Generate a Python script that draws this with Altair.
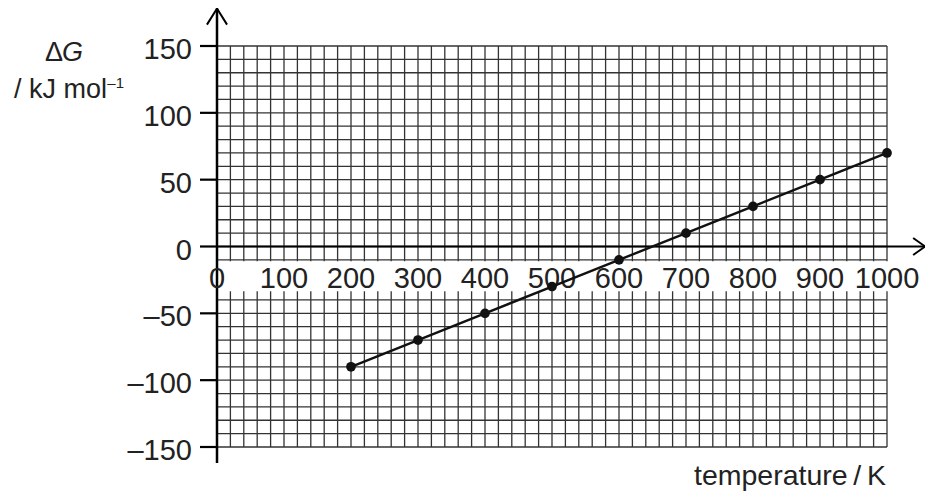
import altair as alt
import pandas as pd

# ---- data ----
temperature = [200, 300, 400, 500, 600, 700, 800, 900, 1000]
delta_g = [-90, -70, -50, -30, -10, 10, 30, 50, 70]

x_label_values = [0, 100, 200, 300, 400, 500, 600, 700, 800, 900, 1000]
x_tick_labels = ["0", "100", "200", "300", "400", "500", "600", "700", "800", "900", "1000"]
y_tick_values = [-150, -100, -50, 0, 50, 100, 150]
y_tick_labels = ["\u2013150", "\u2013100", "\u201350", "0", "50", "100", "150"]

X_MIN, X_MAX = 0, 1000
Y_MIN, Y_MAX = -150, 150
grid_x = list(range(X_MIN, X_MAX + 1, 20))
grid_y = list(range(Y_MIN, Y_MAX + 1, 10))

FONT = "Liberation Sans"
INK = "#222222"
GRID = "#333333"

xs = alt.Scale(domain=[X_MIN, X_MAX], nice=False, zero=False)
ys = alt.Scale(domain=[Y_MIN, Y_MAX], nice=False, zero=False)


def X(field):
    return alt.X(field, scale=xs, axis=None)


def Y(field):
    return alt.Y(field, scale=ys, axis=None)


# ---- grid ----
vgrid = alt.Chart(pd.DataFrame({"x": grid_x, "y0": Y_MIN, "y1": Y_MAX})).mark_rule(
    color=GRID, strokeWidth=1.3
).encode(x=X("x:Q"), y=Y("y0:Q"), y2="y1:Q")

hgrid = alt.Chart(pd.DataFrame({"y": grid_y, "x0": X_MIN, "x1": X_MAX})).mark_rule(
    color=GRID, strokeWidth=1.3
).encode(x=X("x0:Q"), x2="x1:Q", y=Y("y:Q"))

# white band behind the x tick labels
band = alt.Chart(pd.DataFrame({"x0": [-5], "x1": [1005], "y0": [-11], "y1": [-33.5]})).mark_rect(
    fill="white"
).encode(x=X("x0:Q"), x2="x1:Q", y=Y("y0:Q"), y2="y1:Q")

# axis lines with arrow heads
yaxis_line = alt.Chart(pd.DataFrame({"x": [0], "y0": [-162], "y1": [178]})).mark_rule(
    color="black", strokeWidth=2.5
).encode(x=X("x:Q"), y=Y("y0:Q"), y2="y1:Q")

xaxis_line = alt.Chart(pd.DataFrame({"x0": [0], "x1": [1057], "y": [0]})).mark_rule(
    color="black", strokeWidth=2.2
).encode(x=X("x0:Q"), x2="x1:Q", y=Y("y:Q"))

arrows = alt.Chart(pd.DataFrame({
    "part": ["y", "y", "y", "x", "x", "x"],
    "ord": [0, 1, 2, 0, 1, 2],
    "x": [-15, 0, 15, 1039, 1057, 1039],
    "y": [166, 178, 166, 6.4, 0, -6.4],
})).mark_line(color="black", strokeWidth=2).encode(
    x=X("x:Q"), y=Y("y:Q"), detail="part:N", order="ord:Q"
)

# y ticks and labels
yticks = alt.Chart(pd.DataFrame({"y": y_tick_values, "x0": -25.4, "x1": 0})).mark_rule(
    color="black", strokeWidth=2.2
).encode(x=X("x0:Q"), x2="x1:Q", y=Y("y:Q"))

ylabels = alt.Chart(pd.DataFrame({"y": y_tick_values, "label": y_tick_labels})).mark_text(
    font=FONT, fontSize=29, color=INK, align="right", baseline="middle", dy=4
).encode(x=alt.value(-25), y=Y("y:Q"), text="label:N")

# x tick labels inside the band
xlabels = alt.Chart(pd.DataFrame({"x": x_label_values, "label": x_tick_labels})).mark_text(
    font=FONT, fontSize=29, color=INK, align="center", baseline="middle"
).encode(x=X("x:Q"), y=alt.value(233), text="label:N")

# data
data = pd.DataFrame({"T": temperature, "dG": delta_g})
line = alt.Chart(data).mark_line(color="#111111", strokeWidth=2.4).encode(
    x=X("T:Q"), y=Y("dG:Q")
)
points = alt.Chart(data).mark_circle(color="#111111", opacity=1, size=95).encode(
    x=X("T:Q"), y=Y("dG:Q")
)


# titles
def label(text, x, y, size, style="normal", align="right"):
    return alt.Chart(pd.DataFrame({"t": [text]})).mark_text(
        font=FONT, fontSize=size, fontStyle=style, color=INK, align=align, baseline="alphabetic"
    ).encode(x=alt.value(x), y=alt.value(y), text="t:N")


t_delta = label("\u0394", -154, 15, 27)
t_g = label("G", -134, 15, 27, style="italic")
t_unit = label("/ kJ mol", -110, 51.5, 27)
t_sup = label("\u20131", -93, 42, 15)
t_xtitle = label("temperature\u2009/\u2009K", 669, 439, 28.5)

chart = alt.layer(
    vgrid, hgrid, band, yaxis_line, xaxis_line, arrows, yticks, ylabels, xlabels,
    line, points, t_delta, t_g, t_unit, t_sup, t_xtitle,
).properties(
    width=670, height=401,
    padding={"left": 209, "top": 38, "right": 38, "bottom": 46},
    autosize=alt.AutoSizeParams(type="none"),
).configure_view(stroke=None)

chart.save("out.html", embed_options={"renderer": "svg", "actions": False})
